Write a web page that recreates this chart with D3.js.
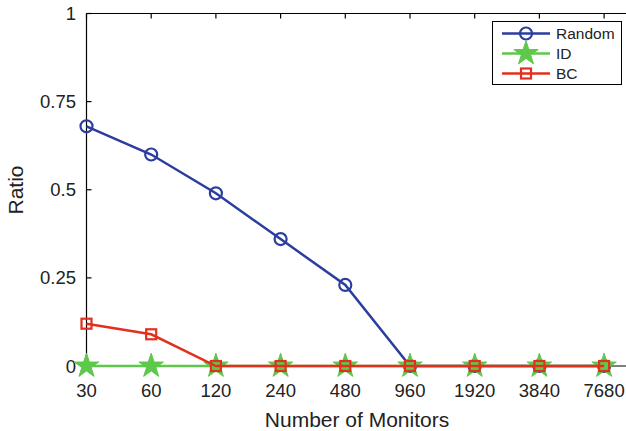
<!DOCTYPE html>
<html><head><meta charset="utf-8">
<script src="https://cdn.jsdelivr.net/npm/d3@7"></script>
<style>body{margin:0;background:#fff}svg{display:block}text{font-family:"Liberation Sans",Arial,sans-serif;fill:#222}</style>
</head><body><svg id="c" width="626" height="431"></svg>
<script>
const categories = ["30","60","120","240","480","960","1920","3840","7680"];
const randomVals = [0.68,0.60,0.49,0.36,0.23,0,0,0,0];
const idVals = [0,0,0,0,0,0,0,0,0];
const bcVals = [0.12,0.09,0,0,0,0,0,0,0];
const yTicks = [0,0.25,0.5,0.75,1];
const yTickLabels = ["0","0.25","0.5","0.75","1"];
const seriesNames = ["Random","ID","BC"];
const colors = ["#2b3d9e","#5ec84b","#e2301f"];

const svg = d3.select("#c");
const L = 86.5, T = 13.5, B = 366, step = 64.7;
const x = d3.scaleLinear().domain([0, categories.length]).range([L, L + categories.length*step]);
const y = d3.scaleLinear().domain([0,1]).range([B, T]);
const R = x(categories.length);

// axes frame
const ax = svg.append("g").attr("stroke","#000").attr("stroke-width",1.2).attr("fill","none");
ax.append("line").attr("x1",L).attr("x2",R).attr("y1",T).attr("y2",T);
ax.append("line").attr("x1",L).attr("x2",R).attr("y1",B).attr("y2",B);
ax.append("line").attr("x1",L).attr("x2",L).attr("y1",T).attr("y2",B);
ax.append("line").attr("x1",R).attr("x2",R).attr("y1",T).attr("y2",B);
categories.forEach((c,i)=>{
  ax.append("line").attr("x1",x(i)).attr("x2",x(i)).attr("y1",B).attr("y2",B-5);
  ax.append("line").attr("x1",x(i)).attr("x2",x(i)).attr("y1",T).attr("y2",T+5);
  svg.append("text").attr("x",x(i)).attr("y",396.5).attr("text-anchor","middle").attr("font-size",18.5).text(c);
});
yTicks.forEach((v,i)=>{
  ax.append("line").attr("x1",L).attr("x2",L+5).attr("y1",y(v)).attr("y2",y(v));
  svg.append("text").attr("x",76).attr("y",y(v)+6.5).attr("text-anchor","end").attr("font-size",18.5).text(yTickLabels[i]);
});
svg.append("text").attr("x",357).attr("y",427).attr("text-anchor","middle").attr("font-size",21).text("Number of Monitors");
svg.append("text").attr("transform","translate(23,190) rotate(-90)").attr("text-anchor","middle").attr("font-size",21).text("Ratio");

const star = d3.symbol().type(d3.symbolStar).size(185);
function marker(g, idx, cx, cy){
  if(idx===0) g.append("circle").attr("cx",cx).attr("cy",cy).attr("r",6).attr("fill","none").attr("stroke",colors[0]).attr("stroke-width",2.2);
  else if(idx===1) g.append("path").attr("d",star()).attr("transform",`translate(${cx},${cy})`).attr("fill",colors[1]).attr("stroke",colors[1]).attr("stroke-width",1);
  else g.append("rect").attr("x",cx-5).attr("y",cy-5).attr("width",10).attr("height",10).attr("fill","none").attr("stroke",colors[2]).attr("stroke-width",2.2);
}
const line = d3.line().x((d,i)=>x(i)).y(d=>y(d));
[randomVals,idVals,bcVals].forEach((vals,k)=>{
  const g = svg.append("g");
  g.append("path").datum(vals).attr("d",line).attr("fill","none").attr("stroke",colors[k]).attr("stroke-width",2.5);
  vals.forEach((v,i)=>marker(g,k,x(i),y(v)));
});

// legend
const lg = svg.append("g");
lg.append("rect").attr("x",492.5).attr("y",21.5).attr("width",129).attr("height",63).attr("fill","#fff").attr("stroke","#000").attr("stroke-width",1);
seriesNames.forEach((n,k)=>{
  const yy = 33.5 + k*20;
  lg.append("line").attr("x1",502).attr("x2",550).attr("y1",yy).attr("y2",yy).attr("stroke",colors[k]).attr("stroke-width",2.5);
  marker(lg,k,526,yy);
  lg.append("text").attr("x",556).attr("y",yy+5.5).attr("font-size",15.5).text(n);
});
</script></body></html>
